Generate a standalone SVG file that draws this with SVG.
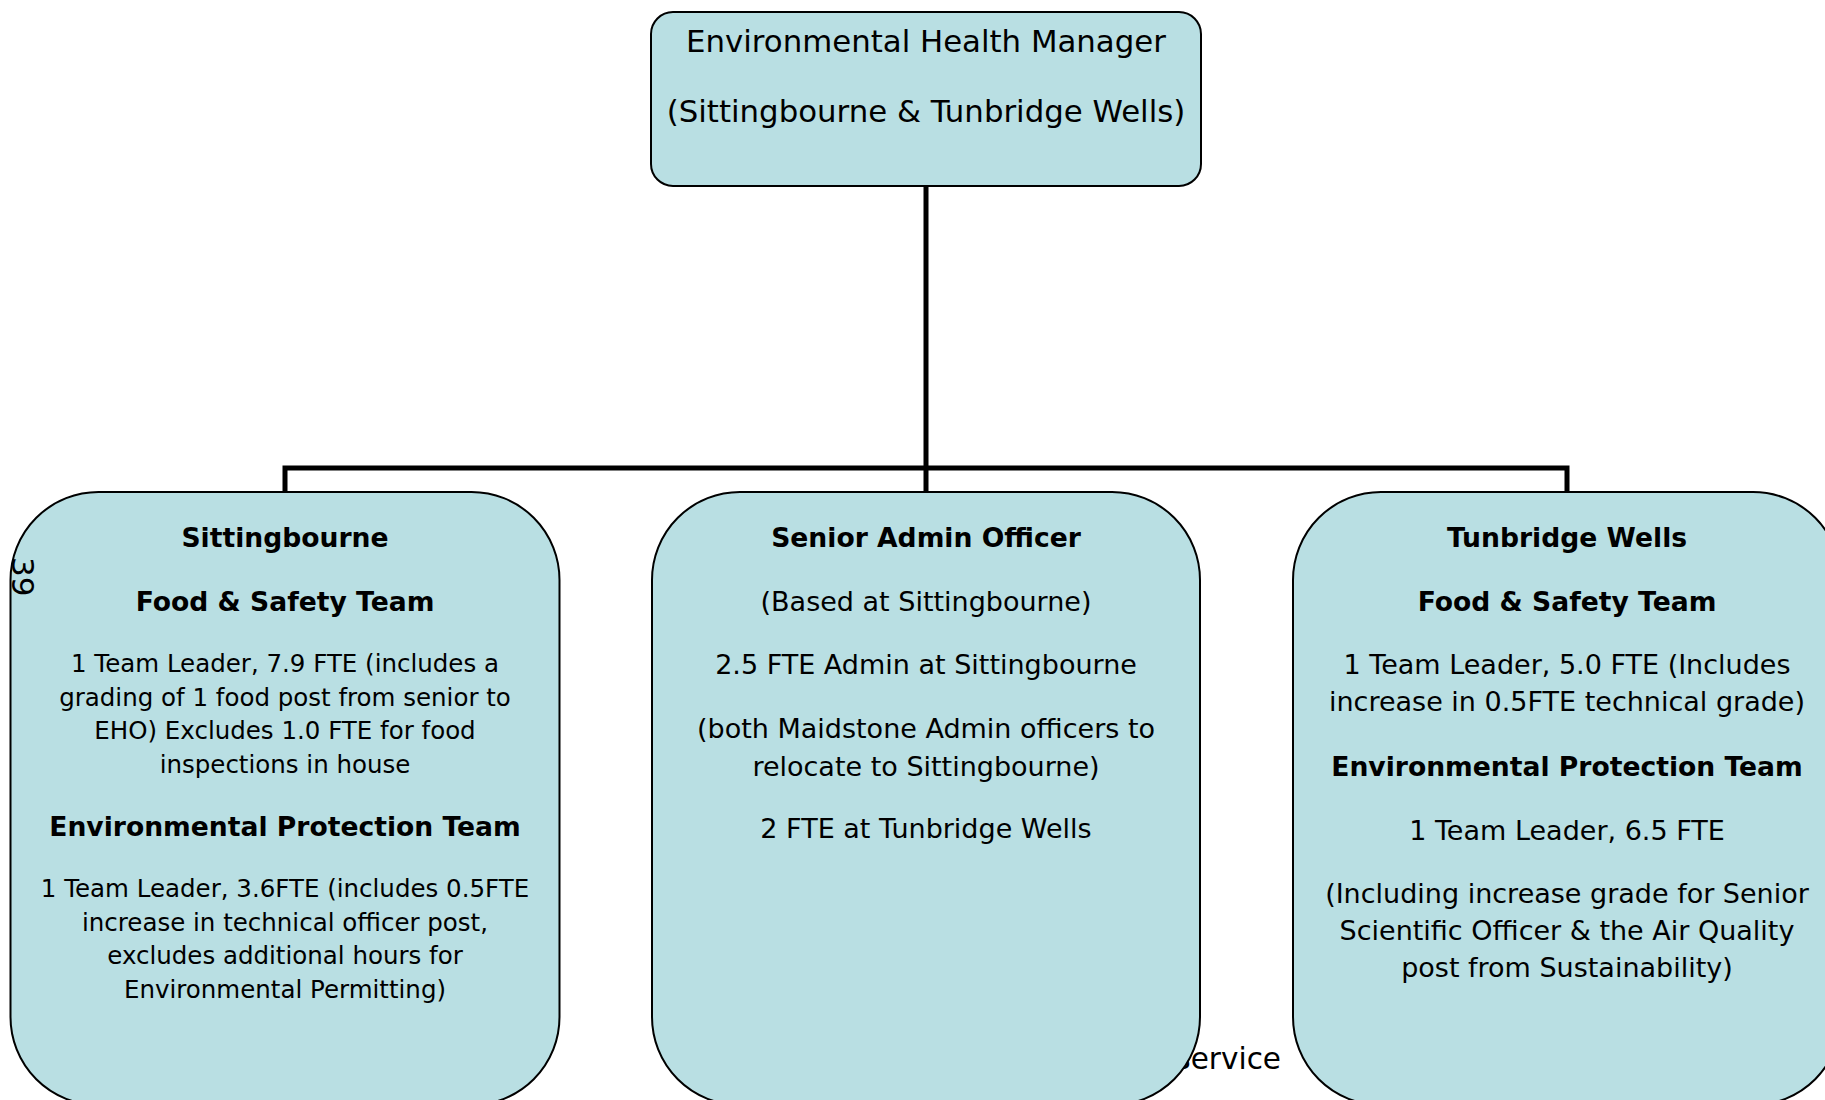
<svg xmlns="http://www.w3.org/2000/svg" width="1825" height="1100" viewBox="0 0 1825 1100">
<style>
.box{fill:#B9DFE3;stroke:#000;stroke-width:2}
.conn{fill:none;stroke:#000;stroke-width:5;stroke-linejoin:miter;stroke-linecap:butt}
text{font-family:"DejaVu Sans",Verdana,sans-serif;fill:#000;text-anchor:middle}
.b{font-weight:bold;font-size:26.6px}
.s{font-size:24.5px}
.m{font-size:27px}
.t{font-size:30.8px}
</style>
<rect width="1825" height="1100" fill="#fff"/>
<text x="1281" y="1069" style="text-anchor:end;font-size:29.5px">service</text>
<g id="connectors">
<path class="conn" d="M926,186 V492"/>
<path class="conn" d="M285,492 V468 H1567 V492"/>
</g>
<g id="manager">
<rect class="box" x="651" y="12" width="550" height="174" rx="22" ry="22"/>
<text class="t" x="926" y="52">Environmental Health Manager</text>
<text class="t" x="926" y="122">(Sittingbourne &amp; Tunbridge Wells)</text>
</g>
<g id="sittingbourne">
<rect class="box" x="10.5" y="492" width="549" height="613" rx="88" ry="88"/>
<text class="b" x="285" y="547">Sittingbourne</text>
<text class="b" x="285" y="611">Food &amp; Safety Team</text>
<text class="s" x="285" y="672">1 Team Leader, 7.9 FTE (includes a</text>
<text class="s" x="285" y="706">grading of 1 food post from senior to</text>
<text class="s" x="285" y="739">EHO) Excludes 1.0 FTE for food</text>
<text class="s" x="285" y="773">inspections in house</text>
<text class="b" x="285" y="836">Environmental Protection Team</text>
<text class="s" x="285" y="897">1 Team Leader, 3.6FTE (includes 0.5FTE</text>
<text class="s" x="285" y="931">increase in technical officer post,</text>
<text class="s" x="285" y="964">excludes additional hours for</text>
<text class="s" x="285" y="998">Environmental Permitting)</text>
</g>
<g id="admin">
<rect class="box" x="652" y="492" width="548" height="613" rx="88" ry="88"/>
<text class="b" x="926" y="547">Senior Admin Officer</text>
<text class="m" x="926" y="611">(Based at Sittingbourne)</text>
<text class="m" x="926" y="674">2.5 FTE Admin at Sittingbourne</text>
<text class="m" x="926" y="738">(both Maidstone Admin officers to</text>
<text class="m" x="926" y="776">relocate to Sittingbourne)</text>
<text class="m" x="926" y="838">2 FTE at Tunbridge Wells</text>
</g>
<g id="tunbridge">
<rect class="box" x="1293" y="492" width="548" height="613" rx="88" ry="88"/>
<text class="b" x="1567" y="547">Tunbridge Wells</text>
<text class="b" x="1567" y="611">Food &amp; Safety Team</text>
<text class="m" x="1567" y="674">1 Team Leader, 5.0 FTE (Includes</text>
<text class="m" x="1567" y="711">increase in 0.5FTE technical grade)</text>
<text class="b" x="1567" y="776">Environmental Protection Team</text>
<text class="m" x="1567" y="840">1 Team Leader, 6.5 FTE</text>
<text class="m" x="1567" y="903">(Including increase grade for Senior</text>
<text class="m" x="1567" y="940">Scientific Officer &amp; the Air Quality</text>
<text class="m" x="1567" y="977">post from Sustainability)</text>
</g>
<text x="0" y="0" transform="translate(11.5,557) rotate(90)" style="font-size:31px;text-anchor:start">39</text>
</svg>
